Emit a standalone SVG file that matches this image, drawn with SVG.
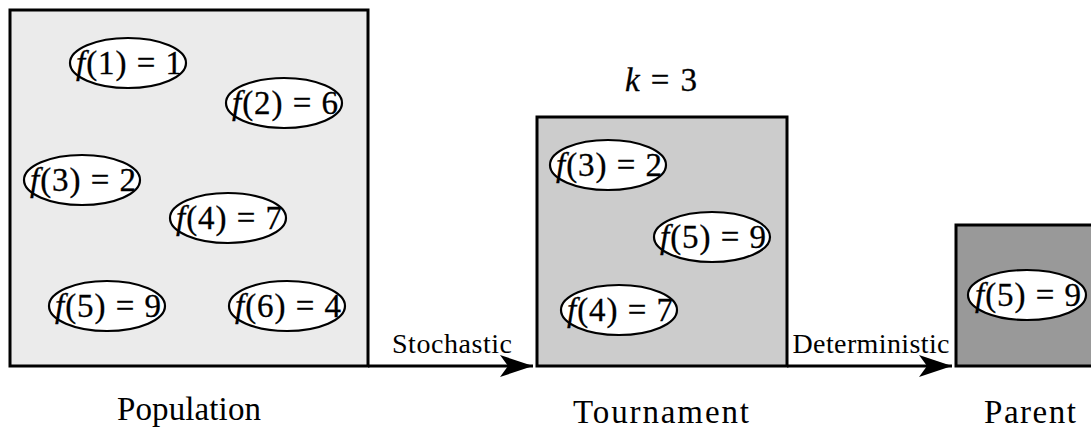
<svg xmlns="http://www.w3.org/2000/svg" width="1091" height="428" viewBox="0 0 1091 428">
<defs>
<style>
.box{stroke:#000;stroke-width:3}
.el{fill:#fff;stroke:#000;stroke-width:2.2}
.m{font-family:"Liberation Serif","DejaVu Serif",serif;font-size:33px;fill:#000;text-anchor:middle;stroke:#000;stroke-width:0.3}
.i{font-style:italic}
.lab{font-family:"Liberation Serif","DejaVu Serif",serif;font-size:33px;fill:#000;text-anchor:middle}
.sm{font-family:"Liberation Serif","DejaVu Serif",serif;font-size:28px;fill:#000;text-anchor:middle}
.conn{stroke:#000;stroke-width:3;fill:none}
</style>
<marker id="stealth" viewBox="-34 -12 36 24" refX="0" refY="0" markerWidth="36" markerHeight="24" markerUnits="userSpaceOnUse" orient="auto">
<path d="M0,0 L-33,-11 L-25,0 L-33,11 Z" fill="#000"/>
</marker>
</defs>
<rect width="1091" height="428" fill="#fff"/>

<g id="population">
<rect class="box" x="10" y="10" width="358" height="356" fill="#ebebeb"/>
<g id="pop-f1"><ellipse class="el" cx="128" cy="63" rx="58" ry="25"/><text class="m" x="129" y="74" textLength="106" lengthAdjust="spacing"><tspan class="i">f</tspan>(1) = 1</text></g>
<g id="pop-f2"><ellipse class="el" cx="284" cy="103" rx="58" ry="25"/><text class="m" x="285" y="114" textLength="106" lengthAdjust="spacing"><tspan class="i">f</tspan>(2) = 6</text></g>
<g id="pop-f3"><ellipse class="el" cx="82" cy="180" rx="58" ry="25"/><text class="m" x="83" y="191" textLength="106" lengthAdjust="spacing"><tspan class="i">f</tspan>(3) = 2</text></g>
<g id="pop-f4"><ellipse class="el" cx="228" cy="218" rx="58" ry="25"/><text class="m" x="229" y="229" textLength="106" lengthAdjust="spacing"><tspan class="i">f</tspan>(4) = 7</text></g>
<g id="pop-f5"><ellipse class="el" cx="107" cy="306" rx="58" ry="25"/><text class="m" x="108" y="317" textLength="106" lengthAdjust="spacing"><tspan class="i">f</tspan>(5) = 9</text></g>
<g id="pop-f6"><ellipse class="el" cx="287" cy="306" rx="58" ry="25"/><text class="m" x="288" y="317" textLength="106" lengthAdjust="spacing"><tspan class="i">f</tspan>(6) = 4</text></g>
<text class="lab" x="189" y="420" textLength="144" lengthAdjust="spacing">Population</text>
</g>

<g id="tournament">
<rect class="box" x="537" y="117" width="250" height="249" fill="#cccccc"/>
<text class="m" x="661" y="91" textLength="72" lengthAdjust="spacing"><tspan class="i">k</tspan> = 3</text>
<g id="tour-f3"><ellipse class="el" cx="608" cy="165" rx="58" ry="25"/><text class="m" x="609" y="176" textLength="106" lengthAdjust="spacing"><tspan class="i">f</tspan>(3) = 2</text></g>
<g id="tour-f5"><ellipse class="el" cx="712" cy="237" rx="58" ry="25"/><text class="m" x="713" y="248" textLength="106" lengthAdjust="spacing"><tspan class="i">f</tspan>(5) = 9</text></g>
<g id="tour-f4"><ellipse class="el" cx="619" cy="310" rx="58" ry="25"/><text class="m" x="620" y="321" textLength="106" lengthAdjust="spacing"><tspan class="i">f</tspan>(4) = 7</text></g>
<text class="lab" x="661" y="423" textLength="176" lengthAdjust="spacing">Tournament</text>
</g>

<g id="parent">
<rect class="box" x="956" y="225" width="140" height="141" fill="#999999"/>
<g id="par-f5"><ellipse class="el" cx="1027" cy="295" rx="59" ry="25"/><text class="m" x="1028" y="306" textLength="106" lengthAdjust="spacing"><tspan class="i">f</tspan>(5) = 9</text></g>
<text class="lab" x="1030" y="423" textLength="92" lengthAdjust="spacing">Parent</text>
</g>

<g id="connectors">
<line class="conn" x1="368" y1="366" x2="533" y2="366" marker-end="url(#stealth)"/>
<line class="conn" x1="787" y1="366" x2="952" y2="366" marker-end="url(#stealth)"/>
<text class="sm" x="452" y="353" textLength="120" lengthAdjust="spacing">Stochastic</text>
<text class="sm" x="871" y="353" textLength="157" lengthAdjust="spacing">Deterministic</text>
</g>
</svg>
